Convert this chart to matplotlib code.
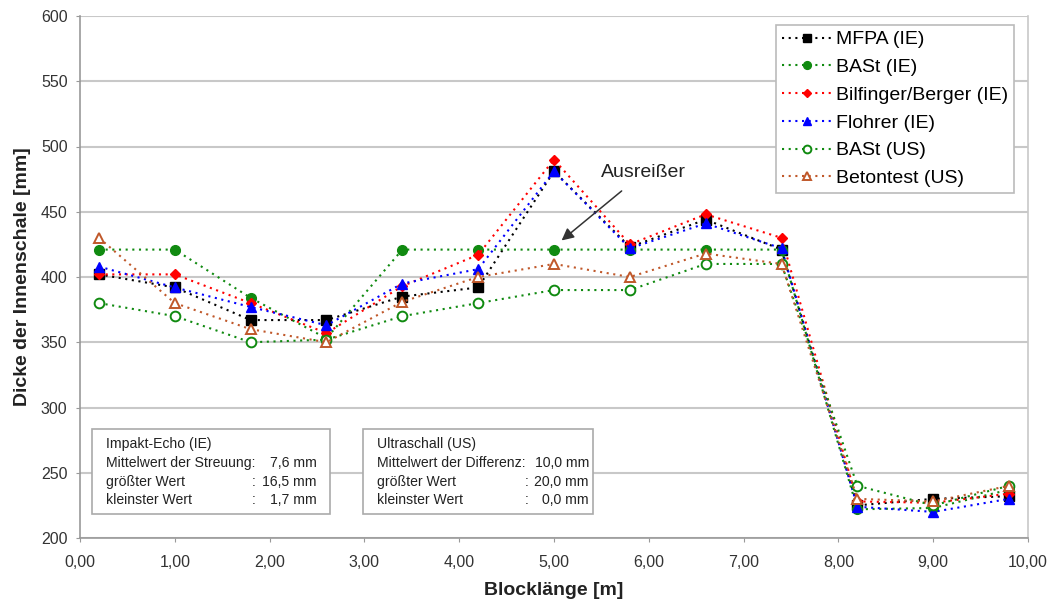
import matplotlib
matplotlib.use("Agg")
import matplotlib.pyplot as plt
from matplotlib.patches import Rectangle
from matplotlib.ticker import FuncFormatter, MultipleLocator

plt.rcParams['font.family'] = ['Liberation Sans', 'DejaVu Sans']

# ---------------- data ----------------
x_pos = [0.2, 1.0, 1.8, 2.6, 3.4, 4.2, 5.0, 5.8, 6.6, 7.4, 8.2, 9.0, 9.8]
mfpa_ie       = [402, 392, 367, 367, 385, 392, 481, 423, 444, 421, 225, 230, 232]
bast_ie       = [421, 421, 384, 353, 421, 421, 421, 421, 421, 421, 222, 223, 237]
bilfinger_ie  = [402, 402, 380, 357, 393, 417, 490, 425, 448, 430, 228, 227, 234]
flohrer_ie    = [408, 392, 377, 363, 395, 406, 481, 422, 441, 422, 224, 220, 230]
bast_us       = [380, 370, 350, 352, 370, 380, 390, 390, 410, 410, 240, 225, 240]
betontest_us  = [430, 380, 360, 350, 381, 400, 410, 400, 418, 410, 230, 228, 240]

series_labels = ["MFPA (IE)", "BASt (IE)", "Bilfinger/Berger (IE)",
                 "Flohrer (IE)", "BASt (US)", "Betontest (US)"]

ie_lines = ["Impakt-Echo (IE)", "Mittelwert der Streuung:", "größter Wert", "kleinster Wert"]
ie_values = ["", "7,6 mm", "16,5 mm", "1,7 mm"]
us_lines = ["Ultraschall (US)", "Mittelwert der Differenz:", "größter Wert", "kleinster Wert"]
us_values = ["", "10,0 mm", "20,0 mm", "0,0 mm"]

W, H = 1053, 607
fig = plt.figure(figsize=(W / 100, H / 100), dpi=100)
ax = fig.add_axes([80 / W, 1 - 538 / H, 948 / W, 522 / H])

def fx(px):
    return px / W

def fy(py):
    return 1 - py / H

green = '#108a10'
brown = '#c0582a'
styles = [
    dict(color='black', marker='s', mfc='black', mec='black', ms=7),
    dict(color=green, marker='o', mfc=green, mec=green, ms=7),
    dict(color='#ff0000', marker='D', mfc='#ff0000', mec='#ff0000', ms=5.6),
    dict(color='#0000ff', marker='^', mfc='#0000ff', mec='#0000ff', ms=7.5),
    dict(color=green, marker='o', mfc='white', mec=green, ms=7, mew=1.4),
    dict(color=brown, marker='^', mfc='white', mec=brown, ms=7.5, mew=1.4),
]
all_series = [mfpa_ie, bast_ie, bilfinger_ie, flohrer_ie, bast_us, betontest_us]

for vals, lab, st in zip(all_series, series_labels, styles):
    ln, = ax.plot(x_pos, vals, linestyle=':', lw=1.5, label=lab, zorder=3, **st)
    ln.set_dashes((1, 2.2))

ax.set_xlim(0, 10)
ax.set_ylim(200, 600)
ax.xaxis.set_major_locator(MultipleLocator(1))
ax.yaxis.set_major_locator(MultipleLocator(50))
ax.xaxis.set_major_formatter(FuncFormatter(lambda v, p: f"{v:.2f}".replace('.', ',')))
ax.yaxis.set_major_formatter(FuncFormatter(lambda v, p: f"{int(v)}"))

ax.grid(axis='y', color='#c8c8c8', lw=1.5, zorder=0)
ax.set_axisbelow(True)
for s in ['left', 'bottom']:
    ax.spines[s].set_color('#999999')
    ax.spines[s].set_linewidth(1.2)
ax.spines['right'].set_color('#c8c8c8')
ax.spines['right'].set_linewidth(1.2)
ax.spines['top'].set_visible(False)
ax.tick_params(axis='both', direction='out', length=3, color='#999999',
               labelsize=11.5, labelcolor='#333333')
ax.tick_params(axis='x', pad=9)
ax.tick_params(axis='y', pad=6)

ax.set_xlabel("Blocklänge [m]", fontsize=14, fontweight='bold', color='#222222')
ax.set_ylabel("Dicke der Innenschale [mm]", fontsize=14, fontweight='bold', color='#222222')
ax.xaxis.set_label_coords(0.5, (538 - 582) / 522)
ax.yaxis.set_label_coords((31 - 80) / 948, 0.5)

leg = ax.legend(loc='upper left', bbox_to_anchor=(fx(776), fy(25)),
                bbox_transform=fig.transFigure, fontsize=14, frameon=True,
                fancybox=False, edgecolor='#bbbbbb', framealpha=1,
                handlelength=2.6, handletextpad=0.2, labelspacing=0.52,
                borderpad=0.3, borderaxespad=0, markerscale=0.8)
leg.get_frame().set_linewidth(1.2)

# annotation
ax.annotate("Ausreißer", xy=(5.08, 428), xytext=(5.5, 480),
            fontsize=14, color='#222222', ha='left', va='center',
            arrowprops=dict(arrowstyle='-|>', color='#333333', lw=1.1,
                            mutation_scale=18, shrinkA=8, shrinkB=0),
            zorder=6)

# info boxes
FS = 10.1

def info_box(x0, x1, y0, y1, tx, colon_x, val_x, lines, values):
    rect = Rectangle((fx(x0), fy(y1)), fx(x1) - fx(x0), fy(y0) - fy(y1),
                     transform=fig.transFigure, facecolor='white',
                     edgecolor='#aaaaaa', lw=1.2, zorder=4)
    fig.patches.append(rect)
    ys = [444, 463, 482, 500]
    for i, (ln, vl) in enumerate(zip(lines, values)):
        fig.text(fx(tx), fy(ys[i]), ln, fontsize=FS, color='#222222',
                 ha='left', va='center', zorder=5)
        if vl:
            fig.text(fx(val_x), fy(ys[i]), vl, fontsize=FS, color='#222222',
                     ha='right', va='center', zorder=5)
        if i >= 2:
            fig.text(fx(colon_x), fy(ys[i]), ":", fontsize=FS, color='#222222',
                     ha='center', va='center', zorder=5)

info_box(92, 330, 429, 514, 106, 254, 317, ie_lines, ie_values)
info_box(363, 593, 429, 514, 377, 527, 589, us_lines, us_values)

fig.savefig("out.png", dpi=100, facecolor='white')
